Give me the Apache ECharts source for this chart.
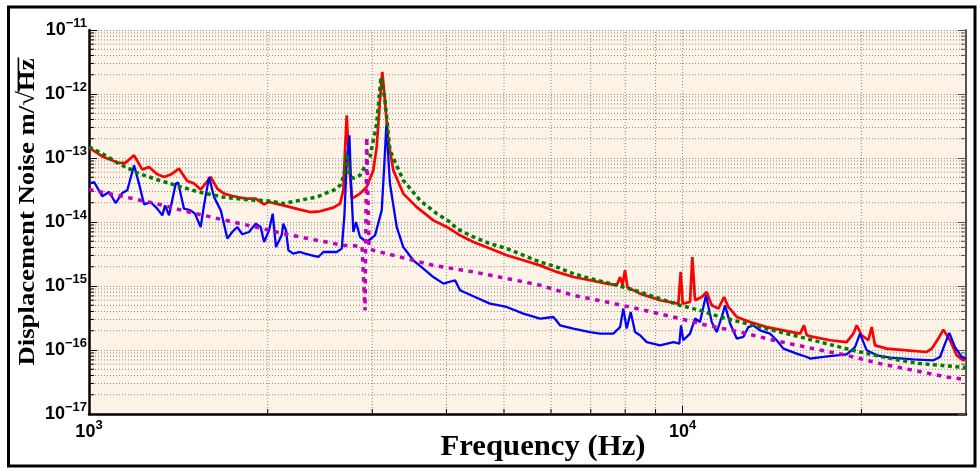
<!DOCTYPE html>
<html><head><meta charset="utf-8">
<script src="https://cdn.jsdelivr.net/npm/echarts@6/dist/echarts.min.js"></script>
<style>html,body{margin:0;padding:0;background:#fff}#c{width:979px;height:468px}</style>
</head><body><div id="c"></div>
<script>
// ---- data ----
const xTickLabels = ['10^3', '10^4'];
const yTickLabels = ['10^-17','10^-16','10^-15','10^-14','10^-13','10^-12','10^-11'];
const xTitle = 'Frequency (Hz)';
const yTitle = 'Displacement Noise m/\u221AHz';

const redFreq = [1000,1053,1123,1153,1191,1230,1262,1303,1338,1373,1418,1464,1503,1542,1603,1645,1688,1743,1837,1909,1972,2010,2125,2267,2356,2449,2580,2648,2682,2699,2717,2735,2771,2861,2936,3012,3052,3091,3119,3151,3192,3255,3383,3565,3802,4005,4216,4440,4736,5053,5390,5750,6136,6543,6981,7447,7742,7843,7918,7994,8071,8474,9158,9831,9922,10000,10287,10380,10489,10764,10975,11190,11482,11739,11935,12331,12987,13853,14774,15763,16009,16180,16596,17702,18887,19381,19637,20021,20540,20811,21081,22060,23839,25763,26267,26946,27479,28193,28937,29688,30000];
const redVal = [1.45e-13,1.06e-13,8.36e-14,8.47e-14,1.10e-13,6.59e-14,7.23e-14,5.56e-14,5.05e-14,5.51e-14,6.82e-14,4.37e-14,3.98e-14,3.21e-14,5.05e-14,3.33e-14,2.78e-14,2.55e-14,2.32e-14,2.32e-14,1.89e-14,2.05e-14,1.82e-14,1.56e-14,1.43e-14,1.47e-14,1.68e-14,1.94e-14,3.13e-14,1.32e-13,4.65e-13,1.32e-13,2.32e-14,2.78e-14,3.52e-14,6.43e-14,1.49e-13,7.98e-13,2.21e-12,7.98e-13,1.89e-13,6.43e-14,2.78e-14,1.71e-14,1.06e-14,8.36e-15,6.19e-15,4.87e-15,3.84e-15,3.02e-15,2.52e-15,2.10e-15,1.66e-15,1.38e-15,1.23e-15,1.09e-15,1.03e-15,1.38e-15,1.03e-15,1.76e-15,9.55e-16,7.60e-16,5.98e-16,5.31e-16,1.66e-15,5.31e-16,5.62e-16,2.84e-15,5.98e-16,6.73e-16,8.05e-16,4.99e-16,4.44e-16,6.73e-16,4.70e-16,3.28e-16,2.74e-16,2.28e-16,2.03e-16,1.80e-16,2.43e-16,1.70e-16,1.60e-16,1.42e-16,1.33e-16,1.80e-16,2.43e-16,1.70e-16,1.42e-16,2.28e-16,1.18e-16,1.05e-16,9.89e-17,9.31e-17,1.05e-16,1.51e-16,2.08e-16,1.42e-16,8.26e-17,6.90e-17,7.35e-17];

const blueFreq = [1000,1020,1053,1081,1109,1138,1160,1191,1214,1238,1270,1303,1329,1343,1364,1400,1413,1445,1483,1508,1542,1562,1593,1624,1667,1710,1743,1777,1812,1860,1909,1946,1972,2010,2039,2065,2111,2125,2147,2167,2208,2267,2311,2372,2434,2482,2563,2614,2665,2692,2717,2745,2763,2788,2817,2861,2936,3032,3112,3144,3168,3213,3298,3383,3517,3657,3802,3953,4136,4216,4440,4736,5053,5390,5750,6056,6214,6543,6981,7255,7640,7843,7943,8047,8173,8312,8474,8697,9158,9643,9870,9934,10021,10287,10489,10693,10945,11190,11410,11634,11785,12016,12331,12651,12898,13150,13496,14028,14397,14774,15560,16180,16386,17255,18173,18887,19508,19889,20412,21223,22347,24457,26432,27126,27656,28121,28743,29512,30000];
const blueVal = [3.98e-14,4.22e-14,2.52e-14,2.94e-14,1.98e-14,2.84e-14,3.13e-14,7.69e-14,3.98e-14,1.89e-14,2.05e-14,1.62e-14,1.27e-14,1.82e-14,1.27e-14,3.98e-14,4.13e-14,1.62e-14,1.52e-14,1.35e-14,8.36e-15,1.82e-14,5.05e-14,2.46e-14,1.52e-14,5.51e-15,6.98e-15,8.36e-15,6.43e-15,6.98e-15,9.44e-15,8.36e-15,4.87e-15,7.41e-15,1.35e-14,4.06e-15,6.19e-15,9.44e-15,7.41e-15,3.61e-15,3.21e-15,3.40e-15,3.21e-15,3.02e-15,2.84e-15,3.40e-15,3.40e-15,3.40e-15,3.84e-15,1.20e-14,9.2e-14,2.26e-13,3.98e-14,6.98e-15,1.0e-14,5.83e-15,4.87e-15,6.19e-15,1.52e-14,8.18e-14,3.24e-13,3.98e-14,8.36e-15,4.06e-15,2.52e-15,1.87e-15,1.38e-15,1.09e-15,1.23e-15,8.57e-16,6.90e-16,5.31e-16,4.70e-16,3.71e-16,3.10e-16,3.28e-16,2.43e-16,2.16e-16,1.91e-16,1.80e-16,1.80e-16,2.28e-16,4.44e-16,2.16e-16,3.93e-16,1.91e-16,1.70e-16,1.33e-16,1.18e-16,1.33e-16,1.26e-16,2.43e-16,1.42e-16,1.80e-16,3.10e-16,2.74e-16,7.16e-16,2.74e-16,1.91e-16,3.28e-16,4.99e-16,2.59e-16,1.51e-16,1.60e-16,2.28e-16,2.43e-16,2.03e-16,1.80e-16,1.42e-16,1.05e-16,8.79e-17,7.78e-17,7.35e-17,7.78e-17,8.26e-17,8.57e-17,1.11e-16,1.80e-16,9.89e-17,8.26e-17,7.60e-17,7.16e-17,6.90e-17,7.78e-17,1.26e-16,1.85e-16,1.11e-16,7.78e-17,7.35e-17];

const greenFreq = [1000,1053,1123,1214,1312,1418,1532,1677,1837,2010,2125,2418,2580,2648,2689,2717,2747,2785,2861,2973,3052,3103,3151,3213,3383,3610,3853,4056,4162,4440,4736,5053,5390,5750,6136,6543,6981,7447,7943,8474,9158,9896,10693,11557,12491,13496,14586,15763,17035,18408,19889,21493,23227,25102,27126,30000];
const greenVal = [1.49e-13,1.17e-13,8.18e-14,5.70e-14,4.49e-14,3.61e-14,2.94e-14,2.46e-14,2.24e-14,2.13e-14,1.94e-14,2.46e-14,3.13e-14,3.74e-14,5.37e-14,1.18e-13,5.37e-14,4.82e-14,5.37e-14,1.04e-13,3.45e-13,1.85e-12,7.98e-13,1.32e-13,4.49e-14,2.18e-14,1.35e-14,1.0e-14,7.89e-15,5.83e-15,4.60e-15,3.84e-15,3.02e-15,2.37e-15,1.98e-15,1.56e-15,1.31e-15,1.13e-15,9.64e-16,8.05e-16,6.35e-16,4.99e-16,4.17e-16,3.28e-16,2.74e-16,2.28e-16,1.91e-16,1.60e-16,1.33e-16,1.11e-16,9.31e-17,7.98e-17,6.90e-17,6.13e-17,5.77e-17,5.31e-17];

const magFreq = [1000,1138,1295,1474,1677,1909,2125,2418,2682,2883,2917,2936,2963,3012,3340,3802,4440,5053,5750,6543,7447,8474,9643,10975,12491,14212,16596,18887,21493,24457,27840,30000];
const magVal = [3.21e-14,2.52e-14,1.94e-14,1.43e-14,1.09e-14,8.36e-15,6.59e-15,5.18e-15,4.33e-15,4.17e-15,4.17e-16,2.13e-13,3.88e-15,3.61e-15,2.84e-15,2.10e-15,1.66e-15,1.31e-15,1.03e-15,7.16e-16,5.62e-16,4.33e-16,3.28e-16,2.43e-16,1.91e-16,1.42e-16,1.05e-16,8.26e-17,6.13e-17,4.82e-17,3.78e-17,3.45e-17];

// ---- helpers ----
const zip = (f, v) => f.map((x, i) => [x, v[i]]);
const X_MIN = 1000, X_MAX = 30000, Y_MIN = 1e-17, Y_MAX = 1e-11;
const yMinor = [];
for (let k = -17; k < -11; k++) for (let m = 2; m <= 9; m++) yMinor.push([X_MIN, m * Math.pow(10, k)]);
const xMinor = [];
for (let k = 3; k <= 4; k++) for (let m = 2; m <= 9; m++) { const f = m * Math.pow(10, k); if (f < X_MAX) xMinor.push([f, Y_MIN]); }

const tickFont = "'Liberation Sans Narrow','Liberation Sans',Arial,sans-serif";
const sup = s => s.replace('-', '\u2212');
function fmt(v, labels) {
  const l = Math.log10(v), e = Math.round(l);
  if (Math.abs(l - e) > 1e-6) return '';
  const lab = labels.find(t => t === '10^' + e);
  if (!lab) return '';
  const p = lab.split('^');
  return '{b|' + p[0] + '}{s|' + sup(p[1]) + '}';
}
const richLab = {
  b: {fontSize: 18, fontWeight: 'bold', fontFamily: tickFont, color: '#000', lineHeight: 26},
  s: {fontSize: 13, fontWeight: 'bold', fontFamily: tickFont, color: '#000', verticalAlign: 'top'}
};

const ctx = document.createElement('canvas').getContext('2d');
function tw(t, font) { ctx.font = font; return ctx.measureText(t).width; }

const serif = "'Liberation Serif','Times New Roman',serif";
const xFs = 29;
const xFont = "bold " + xFs + "px " + serif;
const xW = tw(xTitle, xFont);
const yFs = 24;
const yFont = "bold " + yFs + "px " + serif;
const yW = tw(yTitle, yFont);
const yPre = tw(yTitle.slice(0, yTitle.length - 2), yFont);

const chart = echarts.init(document.getElementById('c'), null, {renderer: 'canvas'});
const gridStyle = {type: [1, 2], color: '#8c8c8c', width: 1};
chart.setOption({
  animation: false,
  backgroundColor: '#ffffff',
  grid: {left: 89, right: 13, top: 30, bottom: 54, show: true, backgroundColor: '#fdf4e7', borderWidth: 0},
  xAxis: [{
    type: 'log', logBase: 10, min: X_MIN, max: X_MAX,
    axisLine: {lineStyle: {color: '#000', width: 2.5}},
    axisTick: {inside: true, length: 8, lineStyle: {color: '#000', width: 1}},
    splitLine: {show: true, lineStyle: gridStyle},
    axisLabel: {margin: 5, formatter: v => fmt(v, xTickLabels), rich: richLab, showMaxLabel: false}
  }],
  yAxis: [{
    type: 'log', logBase: 10, min: Y_MIN, max: Y_MAX,
    axisLine: {lineStyle: {color: '#000', width: 2.5}},
    axisTick: {inside: true, length: 8, lineStyle: {color: '#000', width: 1}},
    splitLine: {show: true, lineStyle: gridStyle},
    axisLabel: {margin: 2, formatter: v => fmt(v, yTickLabels), rich: richLab}
  }, {
    type: 'log', logBase: 10, min: Y_MIN, max: Y_MAX, position: 'right',
    axisLine: {show: true, lineStyle: {color: '#555', width: 2}},
    axisTick: {inside: true, length: 8, lineStyle: {color: '#555', width: 1}},
    splitLine: {show: false}, axisLabel: {show: false}
  }],
  graphic: [
    {type: 'rect', shape: {x: 8.5, y: 7, width: 966.5, height: 459}, style: {fill: 'none', stroke: '#000', lineWidth: 3}, z: 100},
    {type: 'text', x: 543, y: 448, scaleX: 205 / xW,
      style: {text: xTitle, font: xFont, fill: '#000', align: 'center', verticalAlign: 'middle', textAlign: 'center', textVerticalAlign: 'middle'}},
    {type: 'group', x: 28, y: 212, rotation: Math.PI / 2, scaleX: 307 / yW, children: [
      {type: 'text', x: 0, y: 0, style: {text: yTitle, font: yFont, fill: '#000', align: 'center', verticalAlign: 'middle', textAlign: 'center', textVerticalAlign: 'middle'}},
      {type: 'line', shape: {x1: -yW / 2 + yPre - 1, y1: -0.40 * yFs, x2: yW / 2 + 1, y2: -0.40 * yFs}, style: {stroke: '#000', lineWidth: 1.6}}
    ]}
  ],
  series: [
    {type: 'custom', name: 'yminor', coordinateSystem: 'cartesian2d', silent: true, z: 1, data: yMinor,
      renderItem: (p, api) => {
        const a = api.coord([X_MIN, api.value(1)]), b = api.coord([X_MAX, api.value(1)]);
        return {type: 'group', children: [
          {type: 'line', shape: {x1: a[0], y1: a[1], x2: b[0], y2: b[1]}, style: {stroke: '#8c8c8c', lineWidth: 1, lineDash: [1, 2]}},
          {type: 'line', shape: {x1: a[0], y1: a[1], x2: a[0] + 5, y2: a[1]}, style: {stroke: '#000', lineWidth: 1}},
          {type: 'line', shape: {x1: b[0] - 5, y1: b[1], x2: b[0], y2: b[1]}, style: {stroke: '#555', lineWidth: 1}}
        ]};
      }},
    {type: 'custom', name: 'xminor', coordinateSystem: 'cartesian2d', silent: true, z: 1, data: xMinor,
      renderItem: (p, api) => {
        const a = api.coord([api.value(0), Y_MIN]), b = api.coord([api.value(0), Y_MAX]);
        return {type: 'group', children: [
          {type: 'line', shape: {x1: a[0], y1: a[1], x2: b[0], y2: b[1]}, style: {stroke: '#8c8c8c', lineWidth: 1, lineDash: [1, 2]}},
          {type: 'line', shape: {x1: a[0], y1: a[1], x2: a[0], y2: a[1] - 5}, style: {stroke: '#000', lineWidth: 1}}
        ]};
      }},
    {type: 'line', name: 'red', data: zip(redFreq, redVal), showSymbol: false, symbol: 'none', z: 3,
      lineStyle: {color: '#ff0000', width: 2.7}},
    {type: 'line', name: 'blue', data: zip(blueFreq, blueVal), showSymbol: false, symbol: 'none', z: 4,
      lineStyle: {color: '#0000ff', width: 2.3}},
    {type: 'line', name: 'green', data: zip(greenFreq, greenVal), showSymbol: false, symbol: 'none', z: 5,
      lineStyle: {color: '#007a00', width: 3.5, type: [4, 3.5]}},
    {type: 'line', name: 'magenta', data: zip(magFreq, magVal), showSymbol: false, symbol: 'none', z: 6,
      lineStyle: {color: '#bf00bf', width: 3.5, type: [4.5, 5.5]}}
  ]
});
</script></body></html>
